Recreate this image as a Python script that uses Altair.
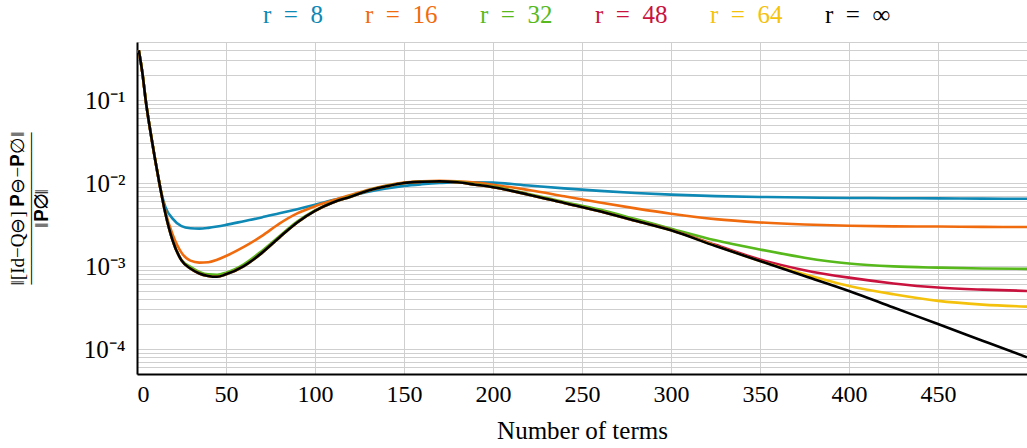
import altair as alt
import pandas as pd

terms = [1, 3, 5, 8, 10, 13, 16, 20, 25, 30, 35, 40, 45, 50,
         60, 70, 80, 90, 100, 110, 120, 130, 140, 150, 160, 170, 180, 190, 200,
         220, 240, 260, 280, 300, 325, 350, 375, 400, 425, 450, 475, 500]

r8 = [0.398, 0.214, 0.0955, 0.0363, 0.0202, 0.00891,
      0.00513, 0.00372, 0.00302, 0.00285, 0.00282, 0.00288, 0.00299, 0.00313,
      0.00347, 0.00385, 0.00432, 0.00484, 0.00546, 0.00622, 0.0070, 0.00785, 0.00861, 0.00923,
      0.00966, 0.0100, 0.0102, 0.0102, 0.0101,
      0.00933, 0.00861, 0.00804, 0.00759, 0.00724, 0.00695, 0.00679, 0.00668, 0.00661,
      0.00656, 0.00653, 0.00649, 0.00646]

r16 = [0.398, 0.214, 0.0955, 0.0363, 0.0202, 0.00891,
       0.00447, 0.0024, 0.00145, 0.00116, 0.0011, 0.00111, 0.00119, 0.00132,
       0.0017, 0.00229, 0.00324, 0.0043, 0.00525, 0.00618, 0.00716, 0.00832, 0.00933, 0.0101,
       0.0105, 0.0106, 0.01047, 0.0101, 0.00955,
       0.00822, 0.00692, 0.00582, 0.00495, 0.00427, 0.00367, 0.00335, 0.00316, 0.00305,
       0.0030, 0.00299, 0.00296, 0.00295]

r32 = [0.398, 0.214, 0.0955, 0.0363, 0.0202, 0.00891,
       0.00427, 0.00204, 0.00118, 0.000977, 0.000851, 0.000794, 0.000786, 0.000832,
       0.00105, 0.00151, 0.00229, 0.00343, 0.00468, 0.00586, 0.00692, 0.00818, 0.00918, 0.0100,
       0.01042, 0.0105, 0.01032, 0.00968, 0.00905,
       0.00737, 0.00592, 0.00478, 0.00368, 0.00282, 0.00204, 0.00158, 0.00126, 0.00107,
       0.000989, 0.000955, 0.000933, 0.000923]

r48 = [0.398, 0.214, 0.0955, 0.0363, 0.0202, 0.00891,
       0.00427, 0.00204, 0.00117, 0.000933, 0.000813, 0.000759, 0.000741, 0.000794,
       0.0010, 0.00143, 0.00221, 0.00335, 0.00462, 0.00582, 0.00684, 0.00813, 0.00912, 0.0100,
       0.01035, 0.01047, 0.0102, 0.00955, 0.00891,
       0.00724, 0.00575, 0.00457, 0.00351, 0.00272, 0.0018, 0.0012, 0.000891, 0.000724,
       0.000617, 0.00055, 0.000519, 0.000501]

r64 = [0.398, 0.214, 0.0955, 0.0363, 0.0202, 0.00891,
       0.00427, 0.00204, 0.00117, 0.000933, 0.000813, 0.000759, 0.000741, 0.000794,
       0.0010, 0.00143, 0.00221, 0.00335, 0.00462, 0.00582, 0.00684, 0.00813, 0.00912, 0.0100,
       0.01035, 0.01047, 0.0102, 0.00955, 0.00891,
       0.00724, 0.00575, 0.00457, 0.00351, 0.00269, 0.00176, 0.00115, 0.000794, 0.000575,
       0.000457, 0.00038, 0.000343, 0.000324]

r_inf = [0.398, 0.214, 0.0955, 0.0363, 0.0202, 0.00891,
         0.00427, 0.00204, 0.00117, 0.000933, 0.000813, 0.000759, 0.000741, 0.000794,
         0.0010, 0.00143, 0.00221, 0.00335, 0.00462, 0.00582, 0.00684, 0.00813, 0.00912, 0.0100,
         0.01035, 0.01047, 0.0102, 0.00955, 0.00891,
         0.00724, 0.00575, 0.00457, 0.00351, 0.00269, 0.00174, 0.00115, 0.000759, 0.000501,
         0.000316, 0.000200, 0.000126, 0.0000794]

S = "\u00A0\u00A0"
series_names = [f"r{S}={S}8", f"r{S}={S}16", f"r{S}={S}32",
                f"r{S}={S}48", f"r{S}={S}64", f"r{S}={S}\u221E"]
series_values = [r8, r16, r32, r48, r64, r_inf]
colors = ["#0e88b4", "#ef6b0e", "#57b91c", "#c9133e", "#f4c20d", "#000000"]

x_ticks = [0, 50, 100, 150, 200, 250, 300, 350, 400, 450, 500]
y_grid = [float(f"{m}e{e}") for e in (-5,) for m in range(5, 10)] + \
         [float(f"{m}e{e}") for e in (-4, -3, -2) for m in range(1, 10)] + \
         [float(f"{m}e-1") for m in range(1, 6)]

rows = []
for name, vals in zip(series_names, series_values):
    for n, v in zip(terms, vals):
        rows.append({"n": n, "v": v, "series": name})
df = pd.DataFrame(rows)

FONT = "Liberation Serif"

x_enc = alt.X("n:Q", scale=alt.Scale(domain=[0, 500], nice=False, zero=False),
              axis=alt.Axis(values=x_ticks, title="Number of terms",
                            labelExpr="datum.value == 500 ? '' : datum.label",
                            grid=True, gridColor="#cfcfcf", gridWidth=1,
                            ticks=False, domainColor="black", domainWidth=2,
                            labelFont=FONT, labelFontSize=24, labelColor="black",
                            labelPadding=8, titleFont=FONT, titleFontSize=25,
                            titleFontWeight="normal", titleColor="black", titlePadding=12))

y_enc = alt.Y("v:Q", scale=alt.Scale(type="log", domain=[5e-5, 0.5], nice=False),
              axis=alt.Axis(values=y_grid,
                            labelExpr="datum.value == 0.1 ? '10\u207B\u00B9' : datum.value == 0.01 ? '10\u207B\u00B2' : datum.value == 0.001 ? '10\u207B\u00B3' : datum.value == 0.0001 ? '10\u207B\u2074' : ''",
                            grid=True, gridColor="#cfcfcf", gridWidth=1,
                            ticks=False, domainColor="black", domainWidth=2,
                            labelFont=FONT, labelFontSize=25, labelColor="black",
                            labelPadding=12, labelOverlap=False,
                            title=["\u2016[Id\u2212Q\u2296] \U0001D40F\u2296\u2212\U0001D40F\u2205\u2016",
                                   "\u2014\u2014\u2014\u2014\u2014\u2014\u2014\u2014",
                                   "\u2016\U0001D40F\u2205\u2016"],
                            titleFont=FONT, titleFontSize=19, titleFontWeight="normal",
                            titleColor="black", titleAngle=270, titleX=-120, titleY=166,
                            titleAlign="center", titleBaseline="middle", titleLineHeight=12))

color_enc = alt.Color("series:N",
                      scale=alt.Scale(domain=series_names, range=colors),
                      legend=alt.Legend(orient="none", direction="horizontal",
                                        legendX=101, legendY=-40, title=None,
                                        symbolSize=0, symbolOpacity=0, symbolStrokeWidth=0,
                                        labelOffset=0, columnPadding=17, padding=0,
                                        labelFont=FONT, labelFontSize=25,
                                        labelColor={"expr": "scale('color', datum.value)"},
                                        labelBaseline="middle"))

base = alt.Chart(df)
layers = []
for name in series_names:
    layers.append(
        base.transform_filter(alt.datum.series == name)
        .mark_line(strokeWidth=2.6, interpolate="monotone", clip=True)
        .encode(x=x_enc, y=y_enc, color=color_enc)
    )

chart = alt.layer(*layers).properties(
    width=890, height=332,
    autosize=alt.AutoSizeParams(type="none"),
    padding={"left": 137, "top": 42, "right": 0, "bottom": 74},
).configure_view(strokeWidth=0).configure(background="white")

chart.save("out.html", embed_options={"renderer": "svg", "actions": False})
